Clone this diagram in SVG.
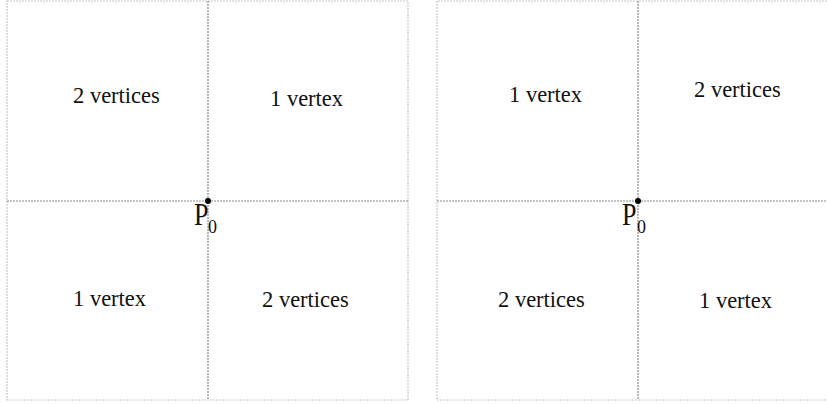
<svg xmlns="http://www.w3.org/2000/svg" width="827" height="404" viewBox="0 0 827 404">
<style>
.border{fill:none;stroke:#c8c8c8;stroke-width:1.2;stroke-dasharray:2,1}
.axis{stroke:#8a8a8a;stroke-width:1.2;stroke-dasharray:2,1}
.lbl{font-family:"Liberation Serif","Times New Roman",serif;font-size:22.5px;fill:#111}
.p{font-family:"Liberation Serif","Times New Roman",serif;font-size:26px;fill:#111}
.sub{font-family:"Liberation Serif","Times New Roman",serif;font-size:18px;fill:#111}
</style>
<rect width="827" height="404" fill="#fff"/>
<g id="left-panel">
  <rect class="border" x="7" y="1" width="401" height="399"/>
  <g id="left-axes">
    <line class="axis" x1="208" y1="1" x2="208" y2="400"/>
    <line class="axis" x1="7" y1="201" x2="408" y2="201"/>
  </g>
  <circle cx="208" cy="201" r="3" fill="#000"/>
  <text class="p" transform="translate(194,225) scale(1,1.2)">P</text>
  <text class="sub" transform="translate(208,233) scale(1,1.1)">0</text>
  <text class="lbl" x="73" y="103">2 vertices</text>
  <text class="lbl" x="270" y="106">1 vertex</text>
  <text class="lbl" x="73" y="306">1 vertex</text>
  <text class="lbl" x="262" y="307">2 vertices</text>
</g>
<g id="right-panel">
  <path class="border" d="M827,1 H437 V400 H827"/>
  <g id="right-axes">
    <line class="axis" x1="638" y1="1" x2="638" y2="400"/>
    <line class="axis" x1="437" y1="201" x2="827" y2="201"/>
  </g>
  <circle cx="638" cy="201" r="3" fill="#000"/>
  <text class="p" transform="translate(622,225) scale(1,1.2)">P</text>
  <text class="sub" transform="translate(637,233) scale(1,1.1)">0</text>
  <text class="lbl" x="509" y="102">1 vertex</text>
  <text class="lbl" x="694" y="97">2 vertices</text>
  <text class="lbl" x="498" y="307">2 vertices</text>
  <text class="lbl" x="699" y="308">1 vertex</text>
</g>
</svg>
